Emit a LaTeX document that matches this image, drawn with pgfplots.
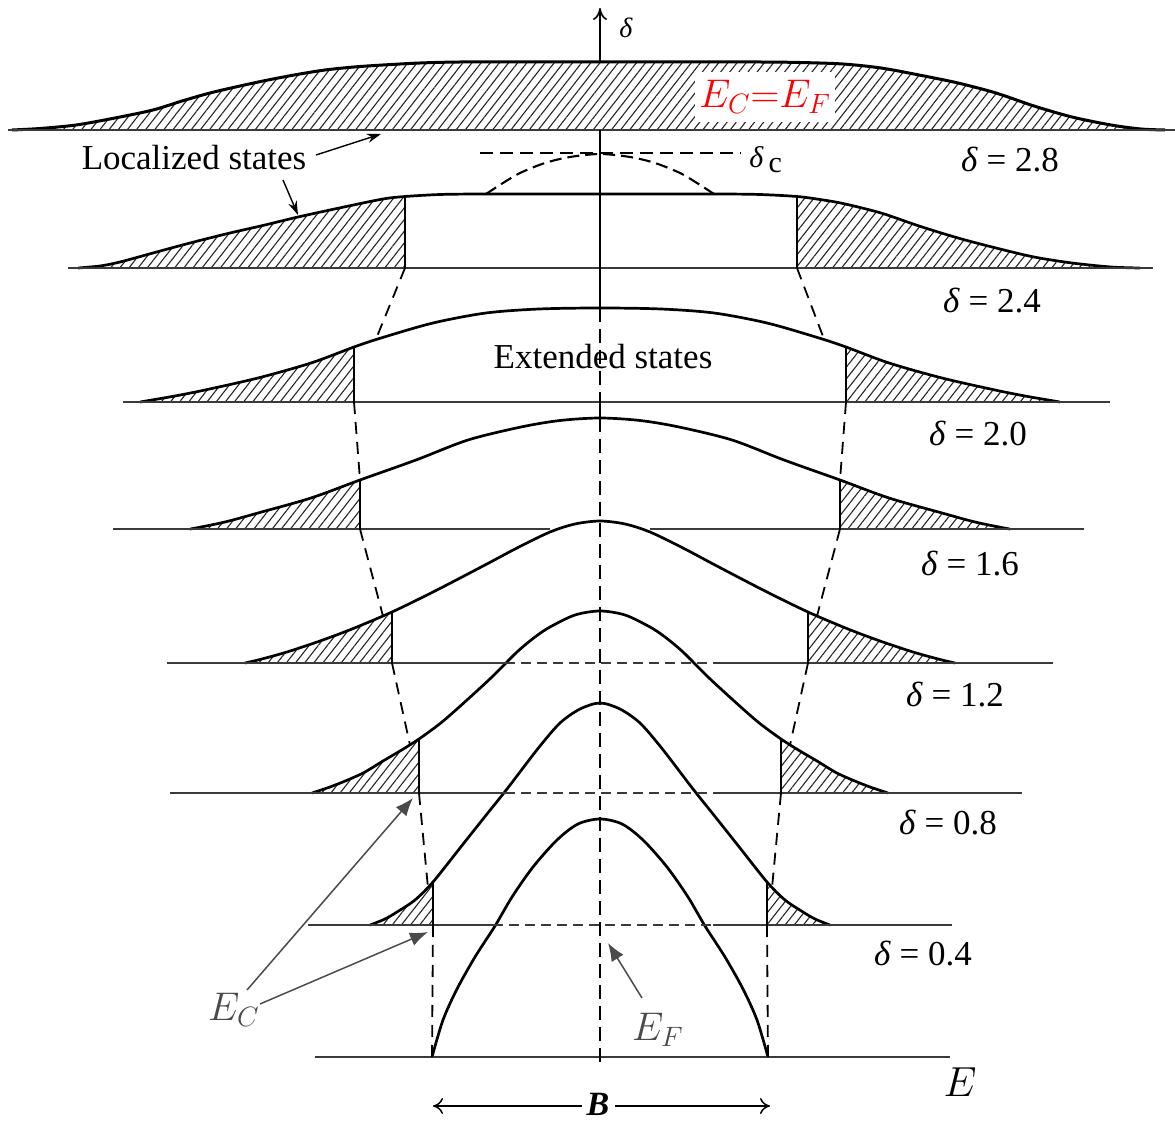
\RequirePackage{fix-cm}
\documentclass[border=0pt]{standalone}
\usepackage{fontspec}
\setmainfont{Liberation Serif}
\usepackage{pgfplots}
\pgfplotsset{compat=1.18}
\usetikzlibrary{patterns.meta,arrows.meta}

\definecolor{annot}{HTML}{4A4A4A}
\definecolor{rulegray}{HTML}{3A3A3A}

% plot styles (1 unit = 0.5pt)
\pgfplotsset{
  crv/.style={black, line width=1.35pt, smooth},
  base/.style={rulegray, line width=0.95pt},
  cut/.style={black, line width=1.25pt},
  edge/.style={black, line width=0.9pt, dash pattern=on 6pt off 4pt},
  dsh/.style={rulegray, line width=0.85pt, dash pattern=on 5pt off 3pt},
  cdash/.style={black, line width=0.85pt, dash pattern=on 7pt off 3.5pt},
  hatch/.style={draw=none, pattern={Lines[angle=52,distance=3.6pt,line width=0.55pt]}, pattern color=black!85},
}
\tikzset{
  lab/.style={font=\fontsize{17.5}{20}\selectfont, inner sep=0pt},
  mlab/.style={font=\fontsize{20}{24}\selectfont, inner sep=0pt},
}

\begin{document}
\begin{tikzpicture}
\begin{axis}[
  width=587.5pt, height=561.5pt, scale only axis,
  xmin=0, xmax=1175, ymin=0, ymax=1123, y dir=reverse,
  hide axis, clip=false,
]
% ---------------- localized (hatched) states ----------------
\addplot[hatch] coordinates {
 (12,130) (40,128.5) (76,125) (115,118) (153,110) (182,101) (210,93) (240,86)
 (268,80) (297,74.5) (325,70) (354,67) (383,65) (420,63) (460,62) (520,62)
 (600,62) (680,62) (760,62) (800,62.5) (843,64) (881,68) (919,75) (958,83)
 (996,93) (1034,106) (1072,117) (1111,125) (1141,129) (1165,130)} -- cycle;
\addplot[hatch] coordinates {
 (78,268) (100,266) (120,262) (153,253) (190,243) (230,233) (265,225) (298,217)
 (344,207) (383,199) (405,196.5) (405,268)} -- cycle;
\addplot[hatch] coordinates {
 (797,268) (797,196.5) (820,199.5) (843,203.5) (881,213) (919,226) (958,238)
 (996,248) (1034,257) (1072,263) (1111,267) (1140,268)} -- cycle;
\addplot[hatch] coordinates {
 (140,402) (146,401) (175,396) (205,390) (258,378) (311,363) (354,347) (354,402)} -- cycle;
\addplot[hatch] coordinates {
 (846,402) (846,347) (889,363) (942,378) (995,390) (1025,396) (1054,401) (1060,402)} -- cycle;
\addplot[hatch] coordinates {
 (190,529) (196,528) (225,522) (258,513) (311,498) (360,480) (360,529)} -- cycle;
\addplot[hatch] coordinates {
 (840,529) (840,480) (889,498) (942,513) (975,522) (1004,528) (1010,529)} -- cycle;
\addplot[hatch] coordinates {
 (245,663) (260,659.5) (287,652) (320,641) (352,629) (392,612) (392,663)} -- cycle;
\addplot[hatch] coordinates {
 (808,663) (808,612) (848,629) (880,641) (913,652) (940,659.5) (955,663)} -- cycle;
\addplot[hatch] coordinates {
 (312,793) (330,787) (350,779) (365,772) (383,761) (400,751) (419,739) (419,793)} -- cycle;
\addplot[hatch] coordinates {
 (781,793) (781,739) (800,751) (817,761) (835,772) (850,779) (870,787) (888,793)} -- cycle;
\addplot[hatch] coordinates {
 (370,925) (385,919) (397,912) (415,900) (433,882) (433,925)} -- cycle;
\addplot[hatch] coordinates {
 (767,925) (767,882) (785,900) (803,912) (815,919) (830,925)} -- cycle;

% ---------------- density-of-states curves ----------------
\addplot[crv, line width=1.5pt] coordinates {
 (12,130) (40,128.5) (76,125) (115,118) (153,110) (182,101) (210,93) (240,86)
 (268,80) (297,74.5) (325,70) (354,67) (383,65) (420,63) (460,62) (520,62)
 (600,62) (680,62) (760,62) (800,62.5) (843,64) (881,68) (919,75) (958,83)
 (996,93) (1034,106) (1072,117) (1111,125) (1141,129) (1165,130)};
\addplot[crv] coordinates {
 (78,268) (100,266) (120,262) (153,253) (190,243) (230,233) (265,225) (298,217)
 (344,207) (383,199) (405,196.5) (440,194.5) (480,194) (540,194) (600,194)
 (660,194) (720,194) (760,194.5) (797,196.5) (820,199.5) (843,203.5) (881,213)
 (919,226) (958,238) (996,248) (1034,257) (1072,263) (1111,267) (1140,268)};
\addplot[crv] coordinates {
 (140,402) (146,401) (175,396) (205,390) (258,378) (311,363) (354,347) (381,338)
 (433,323) (486,313) (539,309) (600,308) (661,309) (714,313) (767,323) (819,338)
 (846,347) (889,363) (942,378) (995,390) (1025,396) (1054,401) (1060,402)};
\addplot[crv] coordinates {
 (190,529) (196,528) (225,522) (258,513) (311,498) (360,480) (416,460) (468,440)
 (521,427) (560,420.5) (600,418) (640,420.5) (679,427) (732,440) (784,460) (840,480)
 (889,498) (942,513) (975,522) (1004,528) (1010,529)};
\addplot[crv] coordinates {
 (245,663) (260,659.5) (287,652) (320,641) (352,629) (392,612) (435,591) (485,565)
 (517,548) (550,532) (575,524) (600,521) (625,524) (650,532)
 (683,548) (715,565) (765,591) (808,612) (848,629) (880,641) (913,652) (940,659.5)
 (955,663)};
\addplot[crv] coordinates {
 (312,793) (330,787) (350,779) (365,772) (383,761) (400,751) (419,739) (442,722)
 (467,700) (493,676) (517,652) (535,637) (550,627) (575,615)
 (600,611) (625,615) (650,627) (665,637) (683,652) (707,676)
 (733,700) (758,722) (781,739) (800,751) (817,761) (835,772) (850,779) (870,787)
 (888,793)};
\addplot[crv] coordinates {
 (370,925) (385,919) (397,912) (415,900) (433,882) (460,848) (483,819) (507,789)
 (523,768) (540,746) (560,723) (580,709) (600,703)
 (620,709) (640,723) (660,746) (677,768) (693,789)
 (717,819) (740,848) (767,882) (785,900) (803,912) (815,919) (830,925)};
\addplot[crv] coordinates {
 (432,1057) (443,1020) (457,989) (475,957) (495,926) (512,897) (533,867) (557,840)
 (578,824) (600,819) (622,824) (643,840) (667,867) (688,897)
 (705,926) (725,957) (743,989) (757,1020) (768,1057)};

% ---------------- energy axes of each band ----------------
\addplot[base] coordinates {(8,130) (1175,130)};
\addplot[base] coordinates {(68,268) (1153,268)};
\addplot[base] coordinates {(123,402) (1110,402)};
\addplot[base] coordinates {(113,529) (550,529)};
\addplot[base] coordinates {(650,529) (1084,529)};
\addplot[base] coordinates {(167,663) (505,663)};
\addplot[dsh]  coordinates {(505,663) (723,663)};
\addplot[base] coordinates {(723,663) (1053,663)};
\addplot[base] coordinates {(170,793) (505,793)};
\addplot[dsh]  coordinates {(505,793) (717,793)};
\addplot[base] coordinates {(717,793) (1022,793)};
\addplot[base] coordinates {(308,925) (493,925)};
\addplot[dsh]  coordinates {(493,925) (713,925)};
\addplot[base] coordinates {(713,925) (952,925)};
\addplot[base] coordinates {(315,1057) (950,1057)};

% ---------------- mobility edges E_C ----------------
\addplot[cut] coordinates {(405,196.5) (405,268)};
\addplot[cut] coordinates {(797,196.5) (797,268)};
\addplot[cut] coordinates {(354,347) (354,402)};
\addplot[cut] coordinates {(846,347) (846,402)};
\addplot[cut] coordinates {(360,480) (360,529)};
\addplot[cut] coordinates {(840,480) (840,529)};
\addplot[cut] coordinates {(392,612) (392,663)};
\addplot[cut] coordinates {(808,612) (808,663)};
\addplot[cut] coordinates {(419,739) (419,793)};
\addplot[cut] coordinates {(781,739) (781,793)};
\addplot[cut] coordinates {(433,882) (433,925)};
\addplot[cut] coordinates {(767,882) (767,925)};

\addplot[edge] coordinates {(405,268) (376,339)};
\addplot[edge] coordinates {(797,268) (824,339)};
\addplot[edge] coordinates {(354,402) (360,480)};
\addplot[edge] coordinates {(846,402) (840,480)};
\addplot[edge] coordinates {(360,529) (383,616)};
\addplot[edge] coordinates {(840,529) (817,616)};
\addplot[edge] coordinates {(392,663) (410,745)};
\addplot[edge] coordinates {(808,663) (790,745)};
\addplot[edge] coordinates {(419,793) (428,888)};
\addplot[edge] coordinates {(781,793) (772,888)};
\addplot[edge] coordinates {(433,925) (432,1057)};
\addplot[edge] coordinates {(767,925) (768,1057)};

% ---------------- critical disorder delta_c ----------------
\addplot[black, line width=0.7pt, dash pattern=on 6.5pt off 3.5pt] coordinates {(480,153) (741,153)};
\addplot[black, line width=1.05pt, dash pattern=on 6pt off 3pt, smooth] coordinates {
 (486,194) (503,183) (520,173) (545,163) (570,157) (600,154) (630,157) (655,163)
 (680,173) (697,183) (714,194)};

% ---------------- vertical delta axis / E_F line ----------------
\addplot[black, line width=0.8pt, -{To[length=6pt,width=7pt]}] coordinates {(600,62) (600,8)};
\addplot[black, line width=0.8pt] coordinates {(600,130) (600,308)};
\addplot[cdash] coordinates {(600,308) (600,402)};
\addplot[black, line width=0.8pt] coordinates {(600,402) (600,418)};
\addplot[cdash] coordinates {(600,418) (600,1068)};

% ---------------- band width B ----------------
\addplot[black, line width=0.75pt, -{To[length=5pt,width=8pt]}] coordinates {(582,1106) (433,1106)};
\addplot[black, line width=0.75pt, -{To[length=5pt,width=8pt]}] coordinates {(615,1106) (770,1106)};

% ---------------- labels ----------------
\node[font=\fontsize{14}{16}\selectfont\itshape, inner sep=0pt] at (axis cs:626,28) {δ};
\node[anchor=base west, inner sep=0pt, font=\fontsize{15}{18}\selectfont] at (axis cs:749,168) {\textit{δ}\,\raisebox{-2.5pt}{c}};
\node[fill=white, inner sep=0pt, minimum width=70pt, minimum height=25pt, text=red, mlab] at (axis cs:765,97) {$E_C{=}E_F$};

\node[lab] at (axis cs:194,158) {Localized states};
\addplot[black, line width=0.7pt, -{Stealth[length=7pt,width=4.5pt]}] coordinates {(316,155) (381,134)};
\addplot[black, line width=0.7pt, -{Stealth[length=7pt,width=4.5pt]}] coordinates {(283,180) (298,215)};
\node[lab] at (axis cs:603,357) {Extended states};

\node[lab] at (axis cs:1010,160) {\textit{δ} = 2.8};
\node[lab] at (axis cs:992,301) {\textit{δ} = 2.4};
\node[lab] at (axis cs:978,434) {\textit{δ} = 2.0};
\node[lab] at (axis cs:970,564) {\textit{δ} = 1.6};
\node[lab] at (axis cs:955,695) {\textit{δ} = 1.2};
\node[lab] at (axis cs:948,823) {\textit{δ} = 0.8};
\node[lab] at (axis cs:923,954) {\textit{δ} = 0.4};

\node[lab, font=\fontsize{17}{19}\selectfont\bfseries\itshape] at (axis cs:598,1104) {B};
\node[mlab, font=\fontsize{21}{24}\selectfont] at (axis cs:960,1082) {$E$};

% annotations
\node[mlab, text=annot] at (axis cs:234,1010) {$E_C$};
\node[mlab, text=annot] at (axis cs:658,1030) {$E_F$};
\addplot[annot, line width=0.75pt, -{Latex[length=9pt,width=7pt]}] coordinates {(247,990) (413,798)};
\addplot[annot, line width=0.75pt, -{Latex[length=9pt,width=7pt]}] coordinates {(260,1004) (428,932)};
\addplot[annot, line width=0.75pt, -{Latex[length=9pt,width=7pt]}] coordinates {(642,998) (608,943)};

\coordinate (bl) at (axis cs:0,1123);
\coordinate (tr) at (axis cs:1175,0);
\end{axis}
\pgfresetboundingbox
\path (bl) rectangle (tr);
\end{tikzpicture}
\end{document}
